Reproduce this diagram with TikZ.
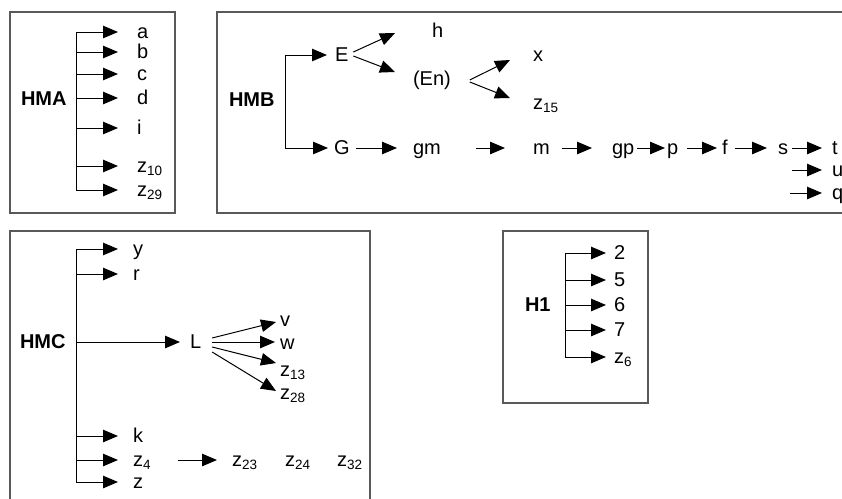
\documentclass[tikz,border=0pt]{standalone}
\usepackage{fontspec}
\setmainfont{Liberation Sans}
\usetikzlibrary{arrows.meta,calc}
\newcommand\zsub[2]{#1\raisebox{-3pt}{\fontsize{13.5}{14}\selectfont #2}}
\begin{document}
\begin{tikzpicture}[x=1pt,y=-1pt,
  lbl/.style={inner sep=0pt,outer sep=0pt,anchor=west,text height=15pt,text depth=2pt,font=\fontsize{20}{23}\selectfont},
  hd/.style={lbl,font=\fontsize{20}{23}\selectfont\bfseries},
  arr/.style={-{Triangle[length=15pt,width=12.5pt]},line width=1pt},
  ln/.style={line width=1pt},
  frame/.style={draw=black!65,line width=1.3pt}]
\clip (0,0) rectangle (842,498);
\useasboundingbox (0,0) rectangle (842,498);
\fill[white] (0,0) rectangle (842,498);
% frames
\draw[frame] (10,12) rectangle (175,213);
\draw[frame] (217,12) rectangle (860,213);
\draw[frame] (10,231) rectangle (370,520);
\draw[frame] (503,231) rectangle (648,403);

% ---------------- HMA
\node[hd] (HMA) at (21,99) {HMA};
\draw[ln] (76,32) -- (76,190);
\foreach \n/\y/\t in {a/32/a, b/52/b, c/74/c, d/98/d, i/128/i, z10/166/{\zsub{z}{10}}, z29/190/{\zsub{z}{29}}}{
  \node[lbl] (A\n) at (137,\y) {\t};
  \coordinate (SA\n) at (76,\y);
  \draw[arr,shorten >=19pt] (SA\n) -- (A\n.west);
}

% ---------------- HMB
\node[hd] (HMB) at (229,100) {HMB};
\coordinate (SBE) at (285,55);
\coordinate (SBG) at (285,148);
\draw[ln] (SBE) -- (SBG);
\node[lbl] (E) at (335,55) {E};
\node[lbl] (G) at (334,148) {G};
\draw[arr,shorten >=8pt] (SBE) -- (E.west);
\draw[arr,shorten >=6pt] (SBG) -- (G.west);
\node[lbl] (h) at (432,31) {h};
\node[lbl] (En) at (413,79) {(En)};
\coordinate (Eh) at (395,33);
\coordinate (EEn) at (395,72);
\draw[arr] ($(E.east)+(5,-3)$) -- (Eh);
\draw[arr] ($(E.east)+(5,1)$) -- (EEn);
\node[lbl] (x) at (533,55) {x};
\node[lbl] (z15) at (533,103) {\zsub{z}{15}};
\coordinate (Enx) at (510,60);
\coordinate (Enz) at (510,98);
\draw[arr] ($(En.east)+(19,1)$) -- (Enx);
\draw[arr] ($(En.east)+(19,3)$) -- (Enz);
\node[lbl] (gm) at (413,148) {gm};
\node[lbl] (m) at (533,148) {m};
\node[lbl] (gp) at (612,148) {gp};
\node[lbl] (p) at (667,148) {p};
\node[lbl] (f) at (722,148) {f};
\node[lbl] (s) at (778,148) {s};
\node[lbl] (t) at (832,148) {t};
\node[lbl] (u) at (832,170) {u};
\node[lbl] (q) at (832,193) {q};
\draw[arr,shorten <=6pt,shorten >=16pt] (G.east) -- (gm.west);
\draw[arr,shorten <=35pt,shorten >=28pt] (gm.east) -- (m.west);
\draw[arr,shorten <=12pt,shorten >=20pt] (m.east) -- (gp.west);
\draw[arr,shorten <=3pt,shorten >=2pt] (gp.east) -- (p.west);
\draw[arr,shorten <=9pt,shorten >=5pt] (p.east) -- (f.west);
\draw[arr,shorten <=7pt,shorten >=11pt] (f.east) -- (s.west);
\draw[arr,shorten <=4pt,shorten >=10pt] (s.east) -- (t.west);
\coordinate (uS) at (792,170);
\coordinate (qS) at (790,193);
\draw[arr,shorten >=10pt] (uS) -- (u.west);
\draw[arr,shorten >=10pt] (qS) -- (q.west);

% ---------------- HMC
\node[hd] (HMC) at (20,342) {HMC};
\draw[ln] (76,249) -- (76,482);
\foreach \n/\y/\t in {y/249/y, r/274/r, k/436/k, z4/460/{\zsub{z}{4}}, z/482/z}{
  \node[lbl] (C\n) at (133,\y) {\t};
  \coordinate (SC\n) at (76,\y);
  \draw[arr,shorten >=15pt] (SC\n) -- (C\n.west);
}
\node[lbl] (L) at (190,342) {L};
\coordinate (SCL) at (76,342);
\draw[arr,shorten >=10pt] (SCL) -- (L.west);
\node[lbl] (v) at (280,320) {v};
\node[lbl] (w) at (280,343) {w};
\node[lbl] (z13) at (280,370) {\zsub{z}{13}};
\node[lbl] (z28) at (280,393) {\zsub{z}{28}};
\coordinate (Lv) at (276,322);
\coordinate (Lw) at (275,342);
\coordinate (Lz13) at (276,363);
\coordinate (Lz28) at (276,391);
\draw[arr] ($(L.east)+(11,-4)$) -- (Lv);
\draw[arr] ($(L.east)+(11,0)$) -- (Lw);
\draw[arr] ($(L.east)+(11,5)$) -- (Lz13);
\draw[arr] ($(L.east)+(11,10)$) -- (Lz28);
\node[lbl] (z23) at (232,460) {\zsub{z}{23}};
\node[lbl] (z24) at (285,460) {\zsub{z}{24}};
\node[lbl] (z32) at (337,460) {\zsub{z}{32}};
\draw[arr,shorten <=27pt,shorten >=15pt] (Cz4.east) -- (z23.west);

% ---------------- H1
\node[hd] (H1) at (525,305) {H1};
\draw[ln] (565,253) -- (565,357);
\foreach \n/\y/\t in {2/253/2, 5/280/5, 6/305/6, 7/330/7, z6/357/{\zsub{z}{6}}}{
  \node[lbl] (D\n) at (614,\y) {\t};
  \coordinate (SD\n) at (565,\y);
  \draw[arr,shorten >=8pt] (SD\n) -- (D\n.west);
}
\end{tikzpicture}
\end{document}
